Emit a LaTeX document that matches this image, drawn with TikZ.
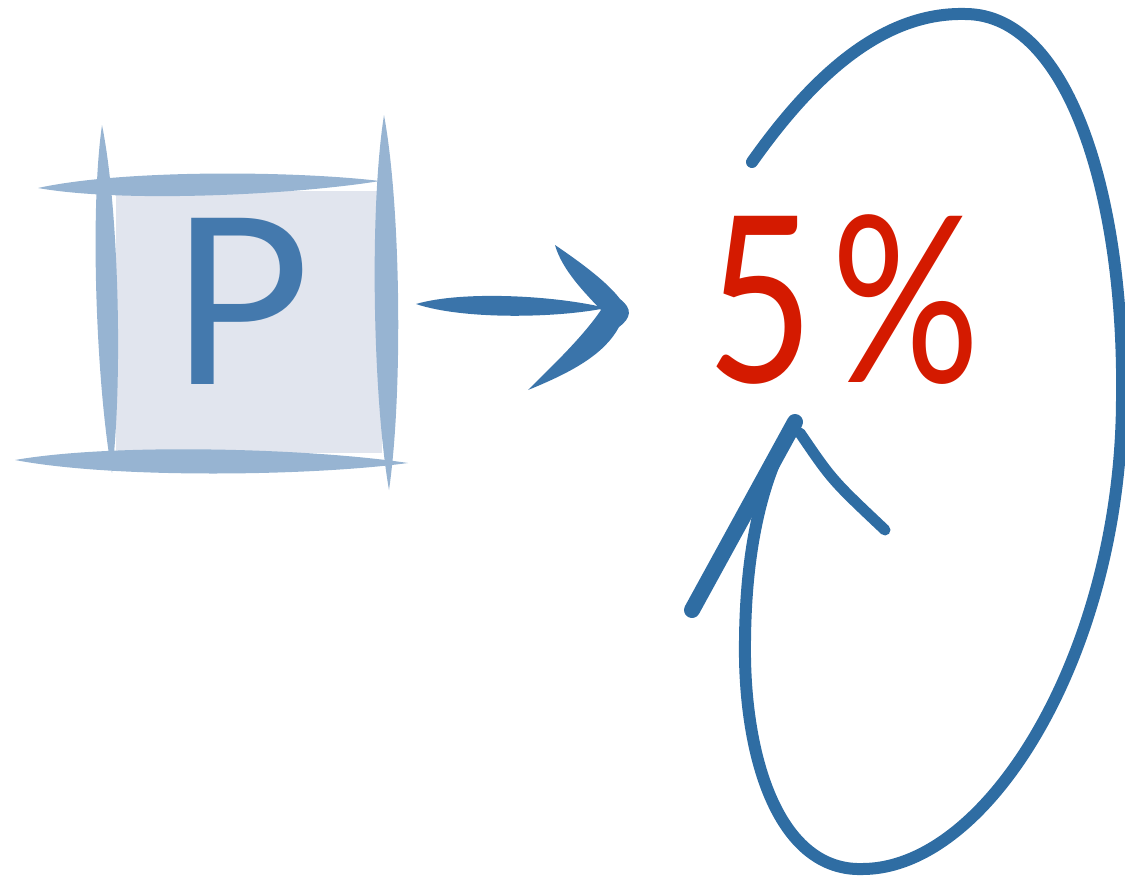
\documentclass[tikz,border=0pt]{standalone}
\usepackage{fontspec}
\setmainfont{Lato}
\usetikzlibrary{calc}
\definecolor{boxfill}{HTML}{E1E5EE}
\definecolor{brushblue}{HTML}{97B4D2}
\definecolor{pblue}{HTML}{4479AD}
\definecolor{arrowblue}{HTML}{3A74AA}
\definecolor{loopblue}{HTML}{2F6DA3}
\definecolor{pctred}{HTML}{D41A00}
% tapered brush stroke: from #1 to #2, bulge #3 near #1 and #4 near #2, colour #5
\newcommand\brushstroke[5]{\fill[#5] (#1) .. controls ($(#1)!0.25!(#2)!#3pt!90:(#2)$) and ($(#1)!0.75!(#2)!#4pt!90:(#2)$) .. (#2) .. controls ($(#1)!0.75!(#2)!#4pt!-90:(#2)$) and ($(#1)!0.25!(#2)!#3pt!-90:(#2)$) .. (#1) -- cycle;}
\tikzset{
  bigtext/.style={anchor=base, inner sep=0pt, font=\fontsize{232}{280}\selectfont},
  loopline/.style={draw=loopblue, line width=12pt, line cap=round, line join=round}
}
\begin{document}
\begin{tikzpicture}[x=1pt,y=-1pt]
\useasboundingbox (0,0) rectangle (1125,878);
% box
\node[fill=boxfill, minimum width=266pt, minimum height=262pt, inner sep=0pt] (box) at (249,322) {};
\coordinate (t1) at (38,188); \coordinate (t2) at (380,181);
\coordinate (b1) at (15,460); \coordinate (b2) at (408,463);
\coordinate (l1) at (102,125); \coordinate (l2) at (112,473);
\coordinate (r1) at (384,115); \coordinate (r2) at (389,490);
\brushstroke{t1}{t2}{17}{12}{brushblue}
\brushstroke{b1}{b2}{18}{14}{brushblue}
\brushstroke{l1}{l2}{15}{13}{brushblue}
\brushstroke{r1}{r2}{16}{15}{brushblue}
\node[bigtext, text=pblue] (P) at (240,384) {P};
% 5%
\node[bigtext, text=pctred, xscale=0.8] (pct) at (843,382) {5\kern22pt\%};
% straight arrow
\coordinate (s1) at (416,304); \coordinate (s2) at (606,308);
\brushstroke{s1}{s2}{15}{11}{arrowblue}
\coordinate (ua) at (555,245); \coordinate (tu) at (620,299);
\coordinate (tl) at (619,327); \coordinate (la) at (528,390);
\coordinate (tin) at (601,310);
\fill[arrowblue] (ua) .. controls (583,264) and (608,283) .. (tu)
  .. controls (633,309) and (631,318) .. (tl)
  .. controls (605,353) and (575,371) .. (la)
  .. controls (550,368) and (582,338) .. (tin)
  .. controls (585,293) and (562,270) .. (ua) -- cycle;
% loop arrow
\coordinate (c1) at (752,162);
\coordinate (ctop) at (965,14);
\coordinate (cright) at (1122,400);
\coordinate (cbot) at (863,869);
\coordinate (cleft) at (745,640);
\coordinate (ltip) at (795,422);
\draw[loopline] (c1) .. controls (810,80) and (880,12) .. (ctop)
  .. controls (1070,14) and (1125,200) .. (cright)
  .. controls (1121,650) and (990,868) .. (cbot)
  .. controls (780,872) and (743,760) .. (cleft)
  .. controls (746,540) and (765,470) .. (ltip);
\coordinate (lb) at (692,610);
\coordinate (rs) at (800,433); \coordinate (rm) at (832,480); \coordinate (re) at (885,530);
\draw[loopline, line width=16pt] (lb) -- (ltip);
\draw[loopline, line width=11pt] (rs) .. controls (rm) .. (re);
\end{tikzpicture}
\end{document}
